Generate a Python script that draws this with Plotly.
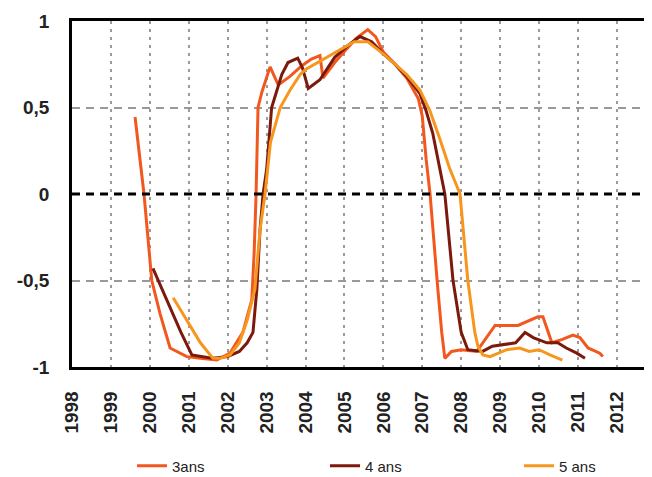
import plotly.graph_objects as go

# ---- data (decimal years, correlation values) ----
x_3ans = [1999.62, 1999.77, 1999.85, 2000.05, 2000.26, 2000.52, 2000.95, 2001.3, 2001.72, 2002.06,
          2002.39, 2002.62, 2002.68, 2002.73, 2002.78, 2002.88, 2003.09, 2003.3, 2003.6, 2003.9,
          2004.15, 2004.37, 2004.45, 2004.75, 2005.06, 2005.3, 2005.6, 2005.8, 2006.0, 2006.3,
          2006.6, 2006.9, 2007.0, 2007.1, 2007.2, 2007.3, 2007.4, 2007.5, 2007.58, 2007.75,
          2008.0, 2008.4, 2008.87, 2009.46, 2009.97, 2010.1, 2010.33, 2010.6, 2010.87, 2011.05,
          2011.26, 2011.56, 2011.64]
y_3ans = [0.445, 0.16, 0.0, -0.5, -0.69, -0.89, -0.94, -0.95, -0.96, -0.92,
          -0.80, -0.61, -0.34, 0.0, 0.5, 0.59, 0.735, 0.63, 0.68, 0.74,
          0.78, 0.80, 0.67, 0.76, 0.84, 0.90, 0.95, 0.91, 0.82, 0.75,
          0.67, 0.55, 0.45, 0.2, 0.0, -0.3, -0.55, -0.8, -0.95, -0.91,
          -0.90, -0.91, -0.76, -0.76, -0.71, -0.71, -0.86, -0.84, -0.815, -0.83,
          -0.89, -0.92, -0.94]

x_4ans = [2000.08, 2000.5, 2000.8, 2001.08, 2001.6, 2002.0, 2002.3, 2002.5, 2002.65, 2002.75,
          2002.83, 2002.91, 2003.0, 2003.13, 2003.39, 2003.55, 2003.8, 2003.92, 2004.07, 2004.37,
          2004.75, 2005.1, 2005.4, 2005.7, 2006.0, 2006.3, 2006.6, 2006.94, 2007.1, 2007.27,
          2007.45, 2007.58, 2007.79, 2008.0, 2008.17, 2008.55, 2008.8, 2009.17, 2009.4, 2009.64,
          2009.85, 2010.2, 2010.48, 2010.7, 2010.97, 2011.18]
y_4ans = [-0.43, -0.65, -0.80, -0.93, -0.95, -0.94, -0.91, -0.86, -0.80, -0.55,
          -0.21, 0.0, 0.14, 0.5, 0.69, 0.76, 0.785, 0.73, 0.61, 0.66,
          0.79, 0.86, 0.91, 0.88, 0.81, 0.75, 0.68, 0.58, 0.48, 0.35,
          0.15, 0.0, -0.5, -0.8, -0.90, -0.91, -0.88, -0.87, -0.86, -0.80,
          -0.83, -0.86, -0.86, -0.89, -0.92, -0.95]

x_5ans = [2000.6, 2001.0, 2001.3, 2001.62, 2001.8, 2002.06, 2002.3, 2002.5, 2002.7, 2002.83,
          2002.96, 2003.1, 2003.35, 2003.6, 2003.86, 2004.0, 2004.4, 2004.94, 2005.25, 2005.6,
          2006.0, 2006.3, 2006.6, 2006.94, 2007.2, 2007.45, 2007.7, 2007.97, 2008.17, 2008.35,
          2008.43, 2008.56, 2008.74, 2009.17, 2009.5, 2009.75, 2010.0, 2010.28, 2010.6]
y_5ans = [-0.60, -0.75, -0.86, -0.95, -0.95, -0.93, -0.86, -0.73, -0.55, -0.21,
          0.0, 0.3, 0.5, 0.60, 0.69, 0.72, 0.77, 0.84, 0.88, 0.88,
          0.81, 0.75, 0.69, 0.60, 0.48, 0.32, 0.15, 0.0, -0.5, -0.80,
          -0.88, -0.93, -0.94, -0.90, -0.89, -0.91, -0.90, -0.93, -0.96]

names = ["3ans", "4 ans", "5 ans"]
colors = ["#F2581E", "#7B1A0C", "#F7961E"]
legend_ids = ["legend", "legend2", "legend3"]

y_tickvals = [-1, -0.5, 0, 0.5, 1]
y_ticktext = ["-1", "-0,5", "0", "0,5", "1"]
x_tickvals = list(range(1998, 2013))
x_ticktext = [str(v) for v in x_tickvals]

# page body adds an 8px offset, so the figure is drawn 8px smaller
W, H = 644, 469
legend_x_px = [124, 317, 511]
legend_y_px = 458

fig = go.Figure()
for xs, ys, n, c, lg in zip([x_3ans, x_4ans, x_5ans], [y_3ans, y_4ans, y_5ans],
                            names, colors, legend_ids):
    fig.add_trace(go.Scatter(x=xs, y=ys, mode="lines", name=n, legend=lg,
                             line=dict(color=c, width=3)))

font_family = "Liberation Sans, Arial, sans-serif"

legend_common = dict(xref="container", yref="container", xanchor="left", yanchor="middle",
                     y=1 - legend_y_px / H, bgcolor="rgba(0,0,0,0)",
                     font=dict(size=15, color="#222222", family=font_family))
layout_legends = {}
for lg, px in zip(legend_ids, legend_x_px):
    layout_legends[lg] = dict(x=px / W, **legend_common)

fig.update_layout(
    width=W, height=H,
    margin=dict(l=64, r=4, t=13, b=110, autoexpand=False),
    paper_bgcolor="white", plot_bgcolor="white",
    font=dict(family=font_family, color="#222222"),
    showlegend=True,
    xaxis=dict(range=[1998, 2012.8], tickvals=x_tickvals, ticktext=x_ticktext,
               tickangle=-90, automargin=False,
               tickfont=dict(size=19, color="#222222", family="Liberation Sans", weight="bold"),
               showgrid=True, gridcolor="#9a9a9a", gridwidth=1.5, griddash="3px,5px",
               showline=True, linecolor="black", linewidth=2.5, mirror=True,
               zeroline=False, ticks="", ticklabelstandoff=14),
    yaxis=dict(range=[-1, 1], tickvals=y_tickvals, ticktext=y_ticktext, automargin=False,
               tickfont=dict(size=19, color="#222222", family="Liberation Sans", weight="bold"),
               showgrid=True, gridcolor="#999999", gridwidth=2, griddash="8px,6px",
               showline=True, linecolor="black", linewidth=2.5, mirror=True,
               zeroline=False, ticks="", ticklabelstandoff=16),
    **layout_legends,
)

# dashed black zero reference line
fig.add_shape(type="line", xref="paper", x0=0, x1=1, yref="y", y0=0, y1=0,
              line=dict(color="black", width=3, dash="8px,6px"), layer="above")

fig.write_html("out.html")
